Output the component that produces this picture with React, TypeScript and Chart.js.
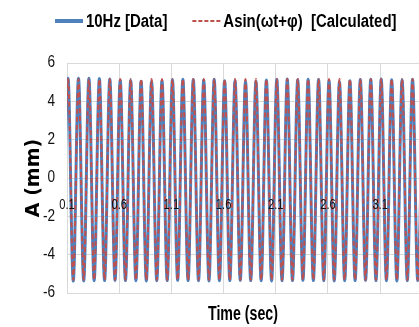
import React, { useEffect, useRef } from 'react';
import { Chart, registerables } from 'chart.js';

Chart.register(...registerables);

// ---- data ----
const seriesNames = ['10Hz [Data]', 'Asin(ωt+φ)  [Calculated]'];

// sample times (s): alternating troughs / peaks of the 10 Hz wave
const timeSec = [
  0.06, 0.11, 0.16, 0.21, 0.26, 0.31, 0.36, 0.41, 0.46, 0.51,
  0.56, 0.61, 0.66, 0.71, 0.76, 0.81, 0.86, 0.91, 0.96, 1.01,
  1.06, 1.11, 1.16, 1.21, 1.26, 1.31, 1.36, 1.41, 1.46, 1.51,
  1.56, 1.61, 1.66, 1.71, 1.76, 1.81, 1.86, 1.91, 1.96, 2.01,
  2.06, 2.11, 2.16, 2.21, 2.26, 2.31, 2.36, 2.41, 2.46, 2.51,
  2.56, 2.61, 2.66, 2.71, 2.76, 2.81, 2.86, 2.91, 2.96, 3.01,
  3.06, 3.11, 3.16, 3.21, 3.26, 3.31, 3.36, 3.41, 3.46, 3.51,
];

// measured displacement (mm)
const dataMm = [
  -5.36, 5.20, -5.38, 5.21, -5.37, 5.20, -5.36, 5.19, -5.35, 5.17,
  -5.34, 5.10, -5.35, 5.09, -5.36, 5.05, -5.37, 5.04, -5.36, 5.08,
  -5.35, 5.12, -5.34, 5.15, -5.35, 5.14, -5.36, 5.11, -5.37, 5.15,
  -5.36, 5.08, -5.35, 5.07, -5.34, 5.04, -5.35, 5.05, -5.36, 5.11,
  -5.37, 5.15, -5.36, 5.16, -5.35, 5.12, -5.34, 5.15, -5.35, 5.14,
  -5.36, 5.08, -5.37, 5.02, -5.36, 5.07, -5.35, 5.14, -5.34, 5.15,
  -5.35, 5.16, -5.36, 5.12, -5.37, 5.11, -5.36, 5.15, -5.35, 5.08,
];

// calculated fit A·sin(ωt+φ) (mm)
const calcMm = [
  -5.32, 5.16, -5.32, 5.16, -5.32, 5.16, -5.32, 5.16, -5.32, 5.16,
  -5.32, 5.16, -5.32, 5.16, -5.32, 5.16, -5.32, 5.16, -5.32, 5.16,
  -5.32, 5.16, -5.32, 5.16, -5.32, 5.16, -5.32, 5.16, -5.32, 5.16,
  -5.32, 5.16, -5.32, 5.16, -5.32, 5.16, -5.32, 5.16, -5.32, 5.16,
  -5.32, 5.16, -5.32, 5.16, -5.32, 5.16, -5.32, 5.16, -5.32, 5.16,
  -5.32, 5.16, -5.32, 5.16, -5.32, 5.16, -5.32, 5.16, -5.32, 5.16,
  -5.32, 5.16, -5.32, 5.16, -5.32, 5.16, -5.32, 5.16, -5.32, 5.16,
];

const xTickValues = [0.1, 0.6, 1.1, 1.6, 2.1, 2.6, 3.1];
const xTickLabels = ['0.1', '0.6', '1.1', '1.6', '2.1', '2.6', '3.1'];
const xMin = 0.1;
const xMax = 3.472;
const yMin = -6;
const yMax = 6;
const yStep = 2;

const xTitle = 'Time (sec)';
const yTitle = 'A (mm)';

const SANS = '"Liberation Sans", Arial, sans-serif';
const BLUE = '#4F81BD';
const RED = '#C0504D';
const GRID = '#D9D9D9';
const TEXT = '#111';

function drawNarrow(ctx: any, text: string, x: number, y: number, align: string, font: string, sx: number, color: string) {
  ctx.save();
  ctx.font = font;
  ctx.fillStyle = color;
  ctx.textBaseline = 'middle';
  ctx.textAlign = 'left';
  const w = ctx.measureText(text).width * sx;
  let left = x;
  if (align === 'center') left = x - w / 2;
  else if (align === 'right') left = x - w;
  ctx.translate(left, y);
  ctx.scale(sx, 1);
  ctx.fillText(text, 0, 0);
  ctx.restore();
  return w;
}

const textPlugin = {
  id: 'narrowText',
  afterDatasetsDraw(chart: any) {
    const ctx = chart.ctx;
    const xs = chart.scales.x;
    const ys = chart.scales.y;
    const zeroY = ys.getPixelForValue(0);
    xTickValues.forEach((v, i) => {
      drawNarrow(ctx, xTickLabels[i], xs.getPixelForValue(v), zeroY + 27, 'center', '14px ' + SANS, 0.8, TEXT);
    });
  },
  afterDraw(chart: any) {
    const ctx = chart.ctx;
    const ys = chart.scales.y;
    const area = chart.chartArea;
    ys.ticks.forEach((t: any) => {
      drawNarrow(ctx, String(t.value), area.left - 12, ys.getPixelForValue(t.value), 'right', '16px ' + SANS, 0.85, TEXT);
    });
    // x axis title
    drawNarrow(ctx, xTitle, (area.left + area.right) / 2, 314, 'center', 'bold 20px ' + SANS, 0.71, '#000');
    // legend
    let x = 55;
    const y = 21;
    chart.data.datasets.forEach((ds: any, i: number) => {
      ctx.save();
      ctx.beginPath();
      ctx.setLineDash(i === 0 ? [] : [4, 2]);
      ctx.strokeStyle = ds.borderColor;
      ctx.lineWidth = i === 0 ? 4 : 2;
      ctx.moveTo(x, y);
      ctx.lineTo(x + 28, y);
      ctx.stroke();
      ctx.restore();
      const w = drawNarrow(ctx, ds.label, x + 31, y + 1, 'left', 'bold 18px ' + SANS, 0.83, '#000');
      x += 31 + w + 25;
    });
  },
};

export default function App() {
  const canvasRef = useRef<HTMLCanvasElement | null>(null);

  useEffect(() => {
    const canvas = canvasRef.current;
    if (!canvas) return;
    const chart = new Chart(canvas, {
      type: 'line',
      data: {
        datasets: [
          {
            label: seriesNames[0],
            data: timeSec.map((t, i) => ({ x: t, y: dataMm[i] })),
            borderColor: BLUE,
            backgroundColor: BLUE,
            borderWidth: 3,
            pointRadius: 0,
            cubicInterpolationMode: 'monotone',
            fill: false,
            order: 2,
          },
          {
            label: seriesNames[1],
            data: timeSec.map((t, i) => ({ x: t, y: calcMm[i] })),
            borderColor: RED,
            backgroundColor: RED,
            borderWidth: 2,
            borderDash: [5, 3],
            pointRadius: 0,
            cubicInterpolationMode: 'monotone',
            fill: false,
            order: 1,
          },
        ],
      },
      options: {
        responsive: false,
        animation: false,
        devicePixelRatio: 1,
        layout: { padding: { top: 63, right: 0, left: 0, bottom: 34 } },
        plugins: {
          legend: { display: false },
          tooltip: { enabled: false },
        },
        scales: {
          x: {
            type: 'linear',
            min: xMin,
            max: xMax,
            position: { y: 0 } as any,
            afterBuildTicks: (scale: any) => {
              scale.ticks = xTickValues.map((v) => ({ value: v }));
            },
            grid: { color: GRID, lineWidth: 1, drawTicks: false },
            border: { color: GRID, width: 1 },
            ticks: { display: false },
          },
          y: {
            type: 'linear',
            min: yMin,
            max: yMax,
            afterFit: (scale: any) => {
              scale.width = 67;
            },
            grid: { color: GRID, lineWidth: 1, drawTicks: false },
            border: { color: GRID, width: 1 },
            ticks: { stepSize: yStep, display: false },
            title: {
              display: true,
              text: yTitle,
              color: '#000',
              font: { family: '"DejaVu Sans", sans-serif', size: 19, weight: 'bold' },
              padding: { top: 23, bottom: 0 },
            },
          },
        },
      },
      plugins: [textPlugin],
    } as any);
    return () => chart.destroy();
  }, []);

  return (
    <div style={{ position: 'absolute', left: 0, top: 0, width: 419, height: 327, background: '#fff' }}>
      <canvas ref={canvasRef} width={419} height={327} style={{ width: 419, height: 327, display: 'block' }} />
    </div>
  );
}
